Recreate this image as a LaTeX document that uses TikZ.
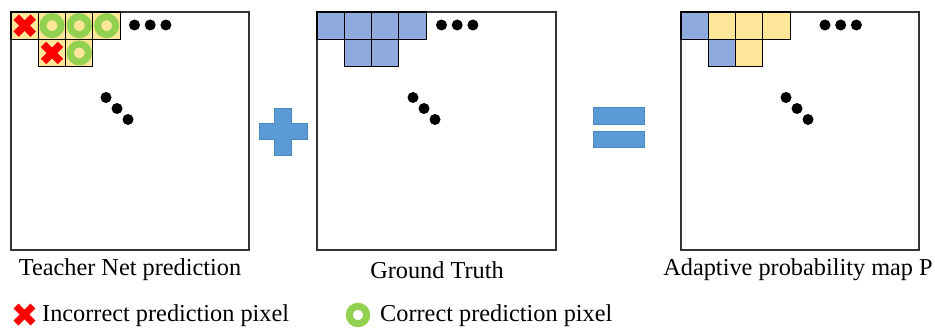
\documentclass[tikz,border=0pt]{standalone}
\usepackage{fontspec}
\setmainfont{Liberation Serif}
\definecolor{cellyellow}{HTML}{FFE699}
\definecolor{cellblue}{HTML}{8FAADC}
\definecolor{ringgreen}{HTML}{92D050}
\definecolor{opblue}{HTML}{5B9BD5}
\definecolor{opedge}{HTML}{4F88BF}
\begin{document}
\begin{tikzpicture}[x=1pt,y=-1pt,
    gridbox/.style={draw=black!80, line width=1.3pt},
    ycell/.style={fill=cellyellow, draw=black, line width=1.1pt},
    bcell/.style={fill=cellblue, draw=black, line width=1.1pt},
    ring/.style={draw=ringgreen, line width=7pt},
    wrong/.style={draw=red, line width=7.5pt},
    opsign/.style={fill=opblue, draw=opedge, line width=0.8pt},
    caption/.style={font=\fontsize{24.3}{27}\selectfont, inner sep=0pt}]
    \useasboundingbox (0,0) rectangle (935,329);
    % frames
    \draw [gridbox] (11,12) rectangle (249,250);
    \draw [gridbox] (317,12) rectangle (556,250);
    \draw [gridbox] (681,12) rectangle (919,250);
    % teacher prediction cells
    \foreach \c in {0,...,3}
      \draw [ycell] (11+27.3*\c,12) rectangle +(27.3,27.3);
    \foreach \c in {1,2}
      \draw [ycell] (11+27.3*\c,39.3) rectangle +(27.3,27.3);
    \foreach \x/\y in {24.65/25.65, 52/52.95}{
      \draw [wrong] (\x-8.5,\y-8.5) -- (\x+8.5,\y+8.5);
      \draw [wrong] (\x-8.5,\y+8.5) -- (\x+8.5,\y-8.5);
    }
    \foreach \x/\y in {52/25.65, 79.3/25.65, 106.6/25.65, 79.3/52.95}
      \draw [ring] (\x,\y) circle (9);
    % ground truth cells
    \foreach \c in {0,...,3}
      \draw [bcell] (317+27.3*\c,12) rectangle +(27.3,27.3);
    \foreach \c in {1,2}
      \draw [bcell] (317+27.3*\c,39.3) rectangle +(27.3,27.3);
    % adaptive map cells
    \draw [bcell] (681,12) rectangle +(27.3,27.3);
    \foreach \c in {1,...,3}
      \draw [ycell] (681+27.3*\c,12) rectangle +(27.3,27.3);
    \draw [bcell] (708.3,39.3) rectangle +(27.3,27.3);
    \draw [ycell] (735.6,39.3) rectangle +(27.3,27.3);
    % ellipses
    \foreach \x/\dx in {134.5/106, 441.5/413, 825/786}{
      \foreach \i in {0,1,2}{
        \fill (\x+15.7*\i,25) circle (5.5);
        \fill (\dx+11*\i,97.5+11*\i) circle (5.5);
      }
    }
    % plus and equals
    \draw [opsign] (274,108) -- (291,108) -- (291,123) -- (307,123) -- (307,139)
      -- (291,139) -- (291,155) -- (274,155) -- (274,139) -- (259,139)
      -- (259,123) -- (274,123) -- cycle;
    \draw [opsign] (593,107) rectangle (644,124);
    \draw [opsign] (593,131) rectangle (644,147);
    % captions
    \node [caption] (teacher) at (130,270) {Teacher Net prediction};
    \node [caption] (truth) at (437,270) {Ground Truth};
    \node [caption] (adaptive) at (798,270) {Adaptive probability map P};
    % legend
    \draw [wrong, line width=7pt] (16,306) -- (33,323);
    \draw [wrong, line width=7pt] (16,323) -- (33,306);
    \node [caption, anchor=west] (incorrect) at (42,316) {Incorrect prediction pixel};
    \draw [ring] (358,315) circle (8.7);
    \node [caption, anchor=west] (correct) at (380,316) {Correct prediction pixel};
\end{tikzpicture}
\end{document}
